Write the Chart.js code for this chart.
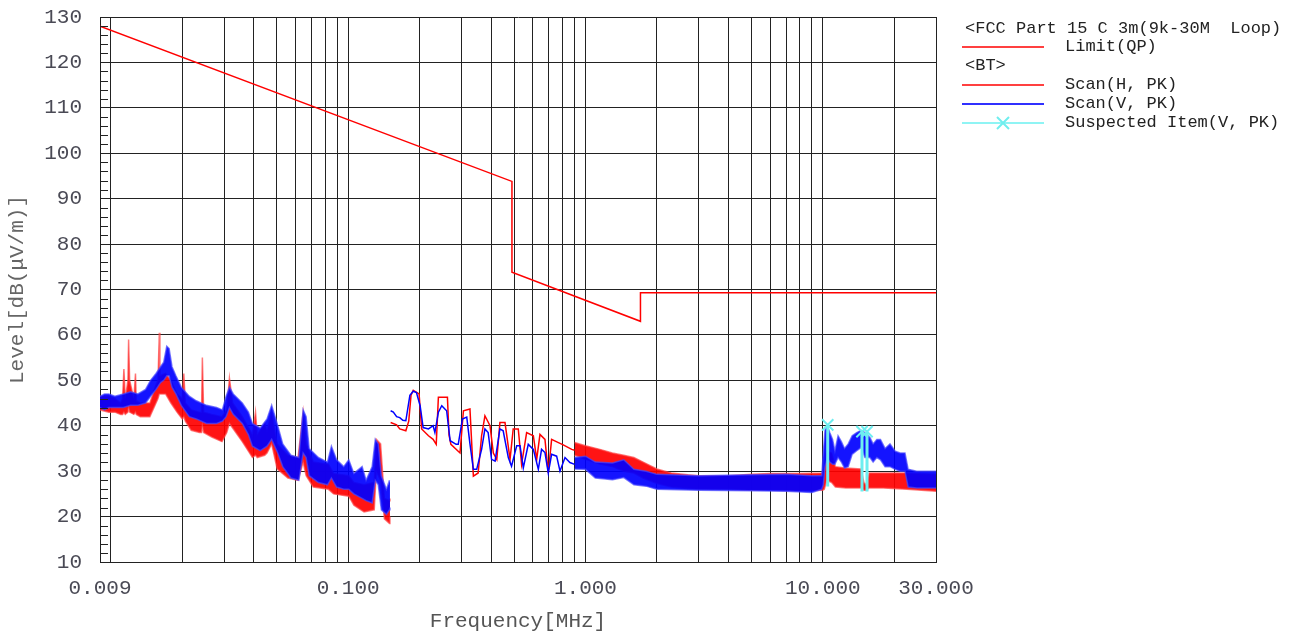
<!DOCTYPE html>
<html>
<head>
<meta charset="utf-8">
<script src="https://cdn.jsdelivr.net/npm/chart.js@4.4.1/dist/chart.umd.min.js"></script>
<style>
  body { margin: 0; background: #fff; }
  #wrap { position: relative; width: 1300px; height: 635px; }
  #legend { position: absolute; left: 0; top: 0; font-family: 'Liberation Mono', monospace; font-size: 17px; color: #222; }
  .lg { position: absolute; white-space: pre; line-height: 20px; }
  .sw { position: absolute; left: 962px; width: 82px; height: 2px; }
</style>
</head>
<body>
<div id="wrap">
  <canvas id="emi" width="1300" height="635"></canvas>
  <div id="legend">
    <div class="lg" style="left:965px;top:19px">&lt;FCC Part 15 C 3m(9k-30M  Loop)</div>
    <div class="sw" style="top:46px;background:#ff4040"></div>
    <div class="lg" style="left:1065px;top:37px">Limit(QP)</div>
    <div class="lg" style="left:965px;top:56px">&lt;BT&gt;</div>
    <div class="sw" style="top:84px;background:#ff4040"></div>
    <div class="lg" style="left:1065px;top:75px">Scan(H, PK)</div>
    <div class="sw" style="top:103px;background:#3030ff"></div>
    <div class="lg" style="left:1065px;top:94px">Scan(V, PK)</div>
    <div class="sw" style="top:122px;background:#8ff4f4"></div>
    <svg style="position:absolute;left:995px;top:115px" width="16" height="16">
      <path d="M2 2 L14 14 M14 2 L2 14" stroke="#70eeee" stroke-width="2"/>
    </svg>
    <div class="lg" style="left:1065px;top:113px">Suspected Item(V, PK)</div>
  </div>
</div>
<script>
//----------------------------------données

// limite FCC 15.209 (MHz / dBµV/m)
const limitFreq = [0.009, 0.49, 0.49, 1.705, 1.705, 30];
const limitLevel = [128.0, 93.8, 73.8, 63.0, 69.3, 69.3];

// 9k-150k : bandes de bruit (haut / bas)
const vLowFreq = [0.0090, 0.0094, 0.0098, 0.0104, 0.0113, 0.0121, 0.0130, 0.0140, 0.0147, 0.0155, 0.0162, 0.0167, 0.0172, 0.0176, 0.0181, 0.0188, 0.0198, 0.0214, 0.0229, 0.0253, 0.0279, 0.0295, 0.0306, 0.0316, 0.0328, 0.0358, 0.0380, 0.0395, 0.0426, 0.0455, 0.0476, 0.0505, 0.0530, 0.0574, 0.0620, 0.0646, 0.0665, 0.0685, 0.0749, 0.0818, 0.0850, 0.0894, 0.0958, 0.1006, 0.1057, 0.1145, 0.1190, 0.1262, 0.1301, 0.1339, 0.1380, 0.1449, 0.1493, 0.1500];
const vLowHi = [46.5, 47, 47, 46.5, 47, 47.5, 47, 48, 50, 51.5, 53, 54, 57.5, 57, 53, 51, 48.5, 46.5, 45.5, 44.5, 44, 43.5, 46.5, 48.5, 47, 45, 43, 40.5, 39.5, 41.5, 44.5, 40, 36, 33.5, 33, 43.5, 42, 35, 33, 32, 35.5, 32.5, 31, 32.5, 29.5, 31, 28, 31, 37, 36, 29, 26, 28, 28];
const vLowLo = [44, 43.5, 44, 44, 44, 44.5, 44.5, 45, 46.5, 48, 49.5, 50, 51, 51, 48.5, 47, 44.5, 42, 41.5, 40.5, 40.5, 41, 42, 44, 42.5, 40.5, 38, 35.5, 34.5, 35.5, 37, 34, 31, 28.5, 28, 34, 33, 29, 27.5, 27, 28.5, 26.5, 26, 26, 25, 24, 23.5, 23, 28, 27, 21.5, 20.5, 21.5, 22];

const hLowFreq = [0.0090, 0.0098, 0.0104, 0.0110, 0.0112, 0.01135, 0.0115, 0.0118, 0.01188, 0.0120, 0.0125, 0.0127, 0.0128, 0.0133, 0.0146, 0.0155, 0.0158, 0.0160, 0.0161, 0.0170, 0.0179, 0.0190, 0.0200, 0.0203, 0.0206, 0.0218, 0.0236, 0.0241, 0.0243, 0.0246, 0.0266, 0.0294, 0.0308, 0.0316, 0.0326, 0.0358, 0.0395, 0.0407, 0.0414, 0.0445, 0.0455, 0.0476, 0.0502, 0.0557, 0.0615, 0.0646, 0.0665, 0.0713, 0.0826, 0.0868, 0.1006, 0.1057, 0.1167, 0.1288, 0.1314, 0.1370, 0.1421, 0.1493, 0.1500];
const hLowHi = [46.5, 46.5, 46, 45, 46, 52.5, 46, 50, 59, 50, 46, 51.5, 45.5, 45, 45, 49, 50, 60.5, 51, 51.5, 50, 47, 46, 51.5, 45, 43.5, 43, 43, 55, 43, 42.5, 42, 43.5, 50.5, 45, 42, 38, 43, 38, 40.5, 39, 43, 36, 33.5, 33, 43, 36, 32, 31.5, 29.5, 29, 27.5, 27, 27.5, 37, 36, 24, 23.5, 24];
const hLowLo = [43.5, 43, 43, 42.5, 42.5, 43, 42.5, 43, 44, 43, 42.5, 43, 42.5, 42, 42, 45, 46, 47, 47, 47, 45, 43, 41.5, 42, 41, 39, 38.5, 38.5, 40, 38.5, 37.5, 36.5, 38.5, 40.5, 39.5, 36.5, 33, 33.5, 33, 33.5, 34, 36, 30.5, 28.5, 28, 32, 29, 26.5, 26, 25, 24.5, 22.5, 21, 21.5, 30, 28, 19.5, 18.5, 20];

// 150k-900k : traces fines
const vMidFreq = [0.151, 0.155, 0.160, 0.165, 0.170, 0.175, 0.182, 0.188, 0.194, 0.201, 0.207, 0.218, 0.228, 0.232, 0.240, 0.248, 0.260, 0.269, 0.285, 0.291, 0.303, 0.316, 0.326, 0.337, 0.348, 0.365, 0.377, 0.389, 0.402, 0.416, 0.436, 0.450, 0.473, 0.488, 0.513, 0.530, 0.547, 0.574, 0.603, 0.633, 0.653, 0.675, 0.697, 0.720, 0.756, 0.781, 0.820, 0.860, 0.900];
const vMid = [43.3, 43, 42, 41.8, 41.2, 41.1, 46.7, 47.6, 47.3, 44.4, 39.6, 39.3, 40, 38.5, 43, 44.4, 43.3, 36.7, 35.9, 35.9, 41.5, 41.9, 36, 30.4, 30.4, 34.8, 39.3, 38.5, 32.6, 32.2, 39.3, 38.9, 33, 31.1, 35.6, 35.6, 30.7, 35.9, 34.8, 30.4, 34.8, 34.1, 29.6, 33.7, 33.3, 30, 33, 31.9, 31.5];

const hMidFreq = [0.151, 0.160, 0.165, 0.175, 0.180, 0.184, 0.188, 0.199, 0.204, 0.218, 0.228, 0.235, 0.240, 0.262, 0.266, 0.271, 0.296, 0.306, 0.326, 0.337, 0.353, 0.365, 0.377, 0.396, 0.409, 0.423, 0.436, 0.458, 0.481, 0.496, 0.521, 0.538, 0.565, 0.603, 0.623, 0.643, 0.675, 0.697, 0.720, 0.769, 0.806, 0.875, 0.900];
const hMid = [40.7, 40.2, 39.3, 38.9, 41, 46.7, 47.8, 47, 39.3, 37.8, 37, 35.9, 46.3, 46.3, 38, 35.9, 34, 43.3, 43.7, 28.9, 29.6, 37.8, 42.2, 40, 34, 32.6, 40.7, 40.7, 32.6, 39.3, 39.3, 31.5, 38.5, 37.8, 32.6, 38.1, 37, 29.6, 37, 36.3, 35.8, 34.8, 34.6];

// 900k-30M : bandes de bruit
const vHighFreq = [0.90, 1.0, 1.1, 1.3, 1.45, 1.6, 1.8, 2.0, 3.0, 5.0, 7.0, 9.0, 9.9, 10.05, 10.22, 10.45, 10.7, 11.0, 11.25, 11.6, 11.98, 12.35, 12.8, 13.3, 13.9, 14.5, 15.06, 15.8, 16.3, 16.9, 17.5, 18.3, 19.2, 20.2, 21.2, 22.2, 22.9, 24.9, 27.3, 30];
const vHighHi = [33, 33.3, 32, 31.8, 32.5, 30.4, 30, 29.3, 29, 29.2, 29.3, 29, 29, 34, 39, 40, 38.5, 37, 34.5, 37.8, 36.5, 35, 36, 37.8, 38.5, 39, 38.5, 37.4, 36, 37, 37, 35, 36, 34.4, 34, 34, 30.4, 30, 30, 30];
const vHighLo = [30.5, 30.4, 28.5, 28.1, 28.6, 27, 26.7, 26, 25.8, 25.7, 25.6, 25.3, 26, 27, 31, 33, 32, 31.5, 31.5, 33, 32, 30.7, 31, 33.7, 34.5, 35.2, 33, 33, 32, 33, 32.5, 31, 31, 30.4, 30, 30, 26.5, 26.3, 26.3, 26.3];

const hHighFreq = [0.90, 1.0, 1.15, 1.3, 1.45, 1.6, 1.75, 2.0, 2.3, 2.7, 3.0, 4.0, 5.0, 6.0, 8.0, 10.0, 10.15, 10.4, 10.9, 11.3, 12.5, 14.5, 14.9, 15.2, 15.7, 18.0, 22.6, 30];
const hHighHi = [36.3, 35.6, 34.8, 34, 33.5, 33, 32, 30.5, 29.6, 29.2, 29, 29, 29.3, 29.5, 29.5, 29.6, 30, 34.4, 34, 31, 30.7, 30.5, 27.5, 27, 29.6, 29.6, 29.6, 29.3];
const hHighLo = [33.5, 32.6, 31.6, 31, 30, 29.6, 28.5, 27.3, 26.5, 26.2, 26, 26, 25.8, 25.8, 25.7, 25.8, 26, 28, 27.5, 26.5, 26.3, 26.3, 25.8, 25.8, 26.3, 26.3, 26, 25.6];

// points suspects
const itemFreq = [10.49, 14.63, 15.36];
const itemLevel = [40.2, 38.7, 38.7];
const itemFloor = [26.6, 25.5, 25.5];

// axe des fréquences
const xTickValues = [0.009, 0.1, 1, 10, 30];
const xTickLabels = ['0.009', '0.100', '1.000', '10.000', '30.000'];

//----------------------------------construction du graphique

// lignes verticales : 1..9 par décade + bornes
const xGrid = [0.009];
[0.01, 0.1, 1, 10].forEach(dec => {
  for (let k = 1; k <= 9; k++) {
    const v = +(k * dec).toPrecision(3);
    if (v <= 30) xGrid.push(v);
  }
});
if (xGrid[xGrid.length - 1] !== 30) xGrid.push(30);

function pts(f, v) {
  return f.map((x, i) => ({ x: x, y: v[i] }));
}

// bande haut/bas remplie
function band(f, hi, lo, color, fillColor, order) {
  return [
    { data: pts(f, hi), borderColor: color, borderWidth: 1.5, fill: false, order: order },
    { data: pts(f, lo), borderColor: color, borderWidth: 1.5, backgroundColor: fillColor, fill: '-1', order: order }
  ];
}

const RED = 'rgb(255, 0, 0)';
const BLUE = 'rgb(0, 0, 255)';
const CYAN = 'rgb(110, 238, 240)';

const dropLines = [];
itemFreq.forEach((f, i) => {
  dropLines.push({ x: f, y: itemFloor[i] }, { x: f, y: itemLevel[i] }, { x: f, y: null });
});

const datasets = [
  { data: pts(limitFreq, limitLevel), borderColor: RED, borderWidth: 1.5, order: 0 },
  { data: pts(itemFreq, itemLevel), showLine: false, pointStyle: 'crossRot', pointRadius: 8,
    pointBorderWidth: 2, pointBorderColor: CYAN, order: 0 },
  { data: dropLines, borderColor: CYAN, borderWidth: 3, spanGaps: false, order: 1 },
  ...band(vLowFreq, vLowHi, vLowLo, 'rgba(70, 70, 255, 0.7)', 'rgba(0, 0, 255, 0.92)', 2),
  { data: pts(vMidFreq, vMid), borderColor: BLUE, borderWidth: 1.5, order: 2 },
  ...band(vHighFreq, vHighHi, vHighLo, 'rgba(70, 70, 255, 0.7)', 'rgba(0, 0, 255, 0.92)', 2),
  ...band(hLowFreq, hLowHi, hLowLo, 'rgba(255, 70, 70, 0.7)', 'rgba(255, 0, 0, 0.92)', 3),
  { data: pts(hMidFreq, hMid), borderColor: RED, borderWidth: 1.5, order: 3 },
  ...band(hHighFreq, hHighHi, hHighLo, 'rgba(255, 70, 70, 0.7)', 'rgba(255, 0, 0, 0.92)', 3)
];

// petites graduations à gauche, tous les 2 dB
const minorTicks = {
  id: 'minorTicks',
  afterDraw(chart) {
    const ctx = chart.ctx;
    const y = chart.scales.y;
    const left = chart.chartArea.left;
    ctx.save();
    ctx.strokeStyle = '#222';
    ctx.lineWidth = 1;
    for (let v = y.min + 2; v < y.max; v += 2) {
      if (v % 10 === 0) continue;
      const py = Math.round(y.getPixelForValue(v)) + 0.5;
      ctx.beginPath();
      ctx.moveTo(left, py);
      ctx.lineTo(left + 8, py);
      ctx.stroke();
    }
    ctx.restore();
  }
};

Chart.defaults.font.family = "'Liberation Mono', monospace";

new Chart(document.getElementById('emi'), {
  type: 'line',
  data: { datasets: datasets },
  options: {
    responsive: false,
    animation: false,
    devicePixelRatio: 1,
    layout: { padding: { top: 17, right: 364, left: 0, bottom: 0 } },
    plugins: { legend: { display: false }, tooltip: { enabled: false } },
    elements: { point: { radius: 0 }, line: { tension: 0 } },
    scales: {
      x: {
        type: 'logarithmic',
        min: 0.009,
        max: 30,
        z: 1,
        afterBuildTicks: s => { s.ticks = xGrid.map(v => ({ value: v })); },
        afterFit: s => { s.height = 73; },
        grid: { color: '#222', lineWidth: 1, drawTicks: false },
        border: { color: '#222' },
        ticks: {
          autoSkip: false,
          maxRotation: 0,
          padding: 14,
          color: '#4a4a55',
          font: { size: 21 },
          callback: v => {
            const i = xTickValues.findIndex(t => Math.abs(t - v) / t < 1e-6);
            return i < 0 ? '' : xTickLabels[i];
          }
        },
        title: { display: true, text: 'Frequency[MHz]', color: '#555', font: { size: 21 }, padding: { top: 0, bottom: 1 } }
      },
      y: {
        min: 10,
        max: 130,
        z: 1,
        // largeur fixe, pas de marge auto en haut
        afterFit: s => { s.width = 100; s.paddingTop = 0; s.paddingBottom = 0; },
        grid: { color: '#222', lineWidth: 1, drawTicks: false },
        border: { color: '#222' },
        ticks: { stepSize: 10, padding: 18, color: '#4a4a55', font: { size: 21 } },
        title: { display: true, text: 'Level[dB(μV/m)]', color: '#666', font: { size: 21 }, padding: 5 }
      }
    }
  },
  plugins: [minorTicks]
});
</script>
</body>
</html>
